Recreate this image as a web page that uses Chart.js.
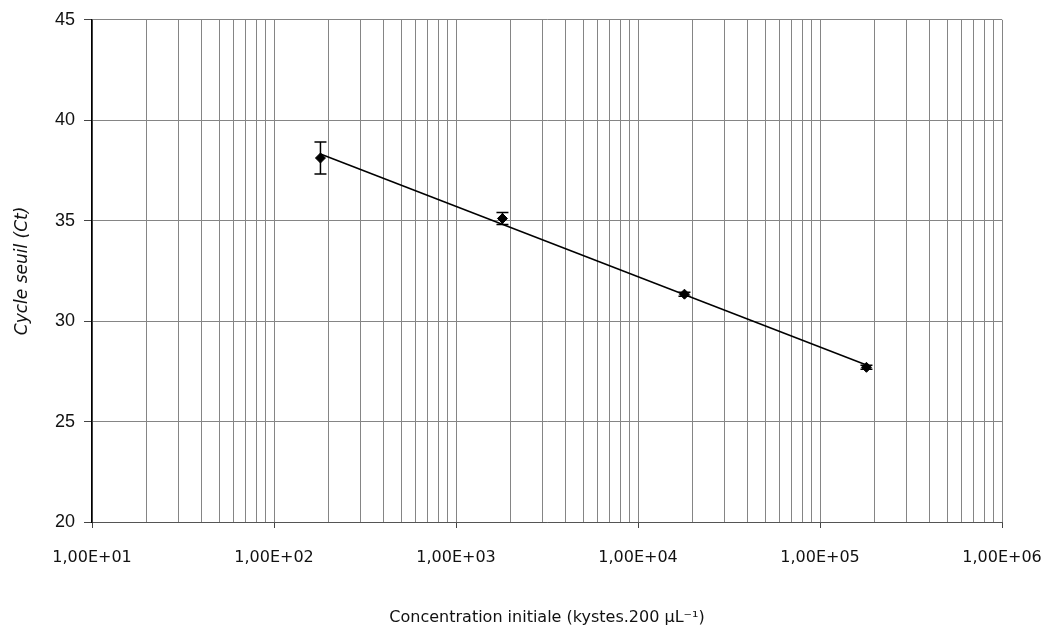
<!DOCTYPE html>
<html lang="fr">
<head>
<meta charset="utf-8">
<title>Cycle seuil en fonction de la concentration initiale</title>
<script src="https://cdn.jsdelivr.net/npm/chart.js@4.4.1/dist/chart.umd.min.js"></script>
<style>
  html, body { margin: 0; padding: 0; background: #fff; }
  #wrap { width: 1051px; height: 637px; }
</style>
</head>
<body>
<div id="wrap"><canvas id="ctChart" width="1051" height="637"></canvas></div>
<script>
// =====================
// DONNEES
// =====================
// concentration initiale (kystes.200 µL-1) et cycle seuil moyen (Ct)
const concentrations = [180, 1800, 18000, 180000];
const ctMoyen = [38.12, 35.11, 31.34, 27.70];
const ctEcart = [0.8, 0.3, 0.1, 0.1];

// axe X : décades affichées
const decades = [1e1, 1e2, 1e3, 1e4, 1e5, 1e6];
const decadeLabels = ["1,00E+01", "1,00E+02", "1,00E+03", "1,00E+04", "1,00E+05", "1,00E+06"];

// axe Y
const ctTicks = [20, 25, 30, 35, 40, 45];

// =====================
// DROITE DE REGRESSION (Ct = a.log10(C) + b)
// =====================
const logC = concentrations.map(Math.log10);
const n = logC.length;
const mx = logC.reduce((a, b) => a + b, 0) / n;
const my = ctMoyen.reduce((a, b) => a + b, 0) / n;
let sxy = 0, sxx = 0;
for (let i = 0; i < n; i++) {
  sxy += (logC[i] - mx) * (ctMoyen[i] - my);
  sxx += (logC[i] - mx) * (logC[i] - mx);
}
const pente = sxy / sxx;
const origine = my - pente * mx;
const trend = [concentrations[0], concentrations[n - 1]].map(c => ({
  x: c,
  y: pente * Math.log10(c) + origine
}));

// =====================
// BARRES D'ERREUR
// =====================
const errorBars = {
  id: "errorBars",
  afterDatasetsDraw(chart) {
    const { ctx, scales: { x, y } } = chart;
    ctx.save();
    ctx.strokeStyle = "#000";
    ctx.lineWidth = 1.5;
    concentrations.forEach((c, i) => {
      const px = x.getPixelForValue(c);
      const top = y.getPixelForValue(ctMoyen[i] + ctEcart[i]);
      const bot = y.getPixelForValue(ctMoyen[i] - ctEcart[i]);
      ctx.beginPath();
      ctx.moveTo(px, top);
      ctx.lineTo(px, bot);
      ctx.moveTo(px - 6, top);
      ctx.lineTo(px + 6, top);
      ctx.moveTo(px - 6, bot);
      ctx.lineTo(px + 6, bot);
      ctx.stroke();
    });
    ctx.restore();
  }
};

// =====================
// GRAPHIQUE
// =====================
const comic = "'DejaVu Sans', sans-serif";
const gridColor = "#858585";

new Chart(document.getElementById("ctChart"), {
  type: "scatter",
  data: {
    datasets: [
      {
        label: "Ct",
        data: concentrations.map((c, i) => ({ x: c, y: ctMoyen[i] })),
        pointStyle: "rectRot",
        pointRadius: 5,
        pointHoverRadius: 5,
        backgroundColor: "#000",
        borderColor: "#000",
        order: 1
      },
      {
        label: "Régression",
        type: "line",
        data: trend,
        borderColor: "#000",
        borderWidth: 1.5,
        pointRadius: 0,
        fill: false,
        order: 2
      }
    ]
  },
  options: {
    responsive: false,
    animation: false,
    layout: { padding: { top: 18, right: 49, left: 0, bottom: 0 } },
    plugins: {
      legend: { display: false },
      tooltip: { enabled: false }
    },
    scales: {
      x: {
        type: "logarithmic",
        min: 10,
        max: 1e6,
        afterBuildTicks(scale) {
          const vals = [];
          for (let d = 0; d < decades.length - 1; d++) {
            for (let m = 1; m <= 9; m++) vals.push(m * decades[d]);
          }
          vals.push(decades[decades.length - 1]);
          scale.ticks = vals.map(v => ({ value: v, major: decades.includes(v) }));
        },
        afterFit(scale) {
          scale.height = 115;
          scale.paddingLeft = 0;
          scale.paddingRight = 0;
        },
        ticks: {
          autoSkip: false,
          maxRotation: 0,
          padding: 20,
          color: "#111",
          font: { family: comic, size: 16 },
          callback(value) {
            const i = decades.indexOf(value);
            return i >= 0 ? decadeLabels[i] : "";
          }
        },
        grid: {
          color: gridColor,
          lineWidth: 1,
          tickLength: 6,
          tickColor: ctx => (ctx.tick && decades.includes(ctx.tick.value)) ? "#444" : "rgba(0,0,0,0)"
        },
        border: { color: "#555", width: 1 },
        title: {
          display: true,
          text: "Concentration initiale (kystes.200 µL⁻¹)",
          color: "#111",
          font: { family: comic, size: 16 },
          padding: { top: 0, bottom: 10 }
        }
      },
      y: {
        min: 20,
        max: 45,
        afterBuildTicks(scale) {
          scale.ticks = ctTicks.map(v => ({ value: v }));
        },
        afterFit(scale) { scale.width = 92; },
        ticks: {
          padding: 9,
          color: "#111",
          font: { family: "'Liberation Sans', Arial, sans-serif", size: 18 }
        },
        grid: {
          color: gridColor,
          lineWidth: 1,
          tickLength: 8,
          tickColor: "#444"
        },
        border: { color: "#000", width: 1.5 },
        title: {
          display: true,
          text: "Cycle seuil (Ct)",
          color: "#111",
          font: { family: comic, size: 17, style: "italic" },
          padding: { top: 12, bottom: 0 }
        }
      }
    }
  },
  plugins: [errorBars]
});
</script>
</body>
</html>
